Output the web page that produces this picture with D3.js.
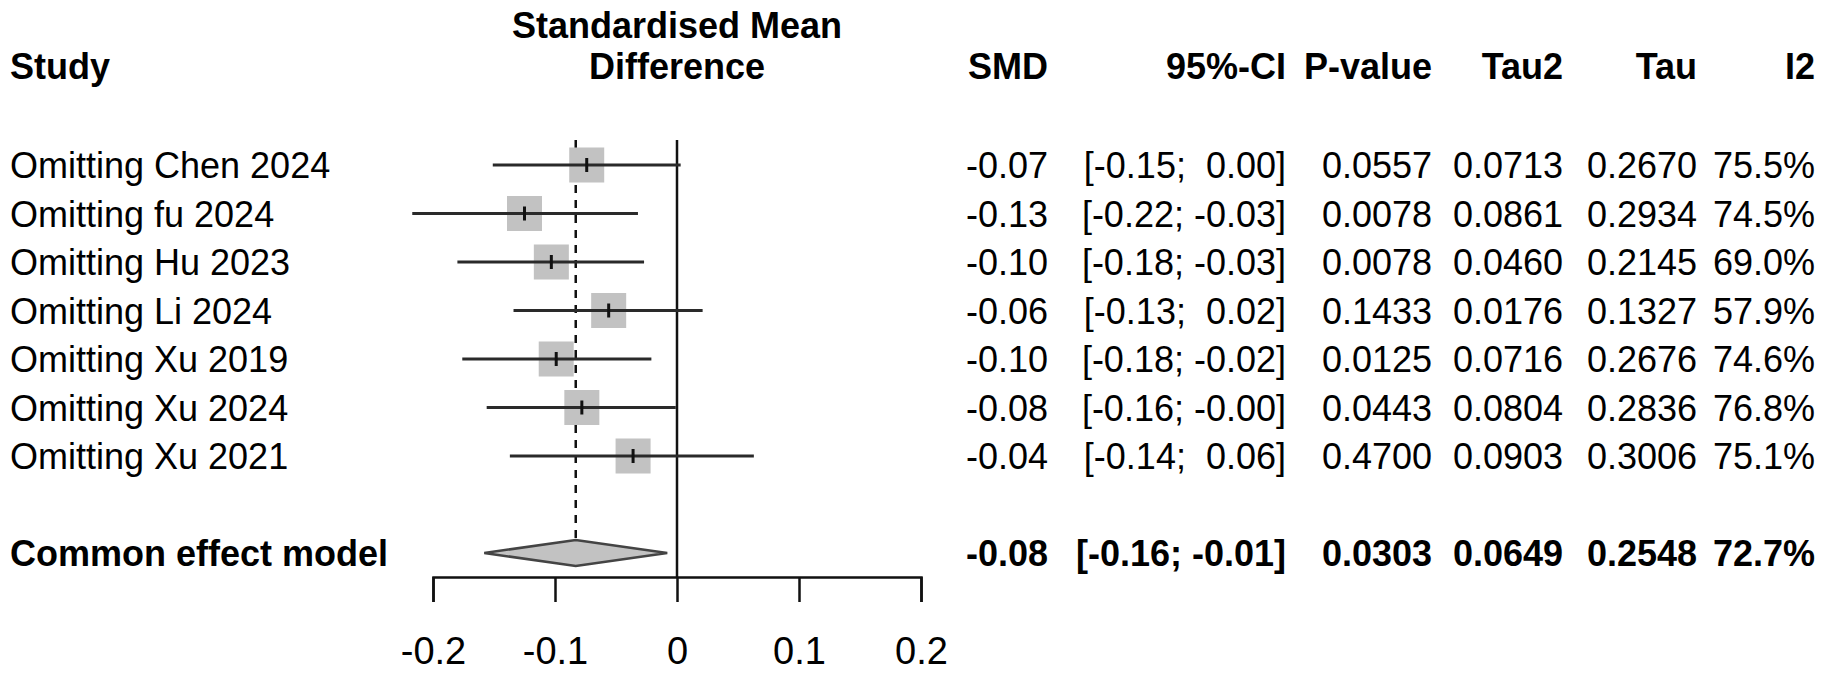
<!DOCTYPE html>
<html>
<head>
<meta charset="utf-8">
<script src="https://cdn.jsdelivr.net/npm/d3@7"></script>
<style>
  body { margin: 0; background: #fff; }
  text { font-family: "Liberation Sans", Arial, sans-serif; white-space: pre; }
</style>
</head>
<body>
<div id="forest"></div>
<script>
var W = 1831, H = 673;

// study rows (leave-one-out)
var studies = ["Omitting Chen 2024", "Omitting fu 2024", "Omitting Hu 2023", "Omitting Li 2024",
               "Omitting Xu 2019", "Omitting Xu 2024", "Omitting Xu 2021"];
var smd   = [-0.074, -0.125, -0.103, -0.056, -0.099, -0.078, -0.036];
var lower = [-0.151, -0.217, -0.180, -0.134, -0.176, -0.156, -0.137];
var upper = [ 0.003, -0.032, -0.027,  0.021, -0.021, -0.001,  0.063];

var smdTxt  = ["-0.07", "-0.13", "-0.10", "-0.06", "-0.10", "-0.08", "-0.04"];
var ciTxt   = ["[-0.15;  0.00]", "[-0.22; -0.03]", "[-0.18; -0.03]", "[-0.13;  0.02]",
               "[-0.18; -0.02]", "[-0.16; -0.00]", "[-0.14;  0.06]"];
var pTxt    = ["0.0557", "0.0078", "0.0078", "0.1433", "0.0125", "0.0443", "0.4700"];
var tau2Txt = ["0.0713", "0.0861", "0.0460", "0.0176", "0.0716", "0.0804", "0.0903"];
var tauTxt  = ["0.2670", "0.2934", "0.2145", "0.1327", "0.2676", "0.2836", "0.3006"];
var i2Txt   = ["75.5%", "74.5%", "69.0%", "57.9%", "74.6%", "76.8%", "75.1%"];

// pooled
var pooled = {label: "Common effect model", est: -0.083, lo: -0.158, hi: -0.008,
              smd: "-0.08", ci: "[-0.16; -0.01]", p: "0.0303", tau2: "0.0649", tau: "0.2548", i2: "72.7%"};

var tickVals = [-0.2, -0.1, 0, 0.1, 0.2];
var tickLabs = ["-0.2", "-0.1", "0", "0.1", "0.2"];

var headers = ["SMD", "95%-CI", "P-value", "Tau2", "Tau", "I2"];
var colEnd  = [1048, 1286, 1432, 1563, 1697, 1815];

var fs = 36;

var x = d3.scaleLinear().domain([-0.2, 0.2]).range([433, 921]);
var y = d3.scaleLinear().domain([0, 8]).range([165, 553]);
var axisY = 577;

var svg = d3.select("#forest").append("svg")
    .attr("width", W).attr("height", H);

// headers
svg.append("text").attr("x", 10).attr("y", 79)
   .attr("font-size", fs).attr("font-weight", "bold").text("Study");
svg.append("text").attr("x", x(0)).attr("y", 38).attr("text-anchor", "middle")
   .attr("font-size", fs).attr("font-weight", "bold").text("Standardised Mean");
svg.append("text").attr("x", x(0)).attr("y", 79).attr("text-anchor", "middle")
   .attr("font-size", fs).attr("font-weight", "bold").text("Difference");
headers.forEach(function(h, i) {
  svg.append("text").attr("x", colEnd[i]).attr("y", 79).attr("text-anchor", "end")
     .attr("font-size", fs).attr("font-weight", "bold").text(h);
});

// zero line and pooled dashed line
svg.append("line")
   .attr("x1", x(0)).attr("x2", x(0)).attr("y1", 140).attr("y2", axisY)
   .attr("stroke", "#111").attr("stroke-width", 2.5);
svg.append("line")
   .attr("x1", x(pooled.est)).attr("x2", x(pooled.est)).attr("y1", 140).attr("y2", y(8) - 13)
   .attr("stroke", "#111").attr("stroke-width", 2.5).attr("stroke-dasharray", "8,7");

// study rows
var sq = 35;
studies.forEach(function(s, i) {
  var cy = y(i);
  svg.append("rect")
     .attr("x", x(smd[i]) - sq / 2).attr("y", cy - sq / 2)
     .attr("width", sq).attr("height", sq)
     .attr("fill", "#c2c2c2");
  svg.append("line")
     .attr("x1", x(lower[i])).attr("x2", x(upper[i])).attr("y1", cy).attr("y2", cy)
     .attr("stroke", "#2a2a2a").attr("stroke-width", 2.8);
  svg.append("line")
     .attr("x1", x(smd[i])).attr("x2", x(smd[i])).attr("y1", cy - 7).attr("y2", cy + 7)
     .attr("stroke", "#111").attr("stroke-width", 3);

  var ty = cy + 13;
  svg.append("text").attr("x", 10).attr("y", ty).attr("font-size", fs).text(s);
  [smdTxt[i], ciTxt[i], pTxt[i], tau2Txt[i], tauTxt[i], i2Txt[i]].forEach(function(t, j) {
    svg.append("text").attr("x", colEnd[j]).attr("y", ty).attr("text-anchor", "end")
       .attr("font-size", fs).text(t);
  });
});

// pooled diamond
var py = y(8);
svg.append("path")
   .attr("d", "M" + x(pooled.lo) + "," + py + " L" + x(pooled.est) + "," + (py - 13) +
              " L" + x(pooled.hi) + "," + py + " L" + x(pooled.est) + "," + (py + 13) + " Z")
   .attr("fill", "#c2c2c2").attr("stroke", "#444").attr("stroke-width", 2.5);
svg.append("text").attr("x", 10).attr("y", py + 13)
   .attr("font-size", fs).attr("font-weight", "bold").text(pooled.label);
[pooled.smd, pooled.ci, pooled.p, pooled.tau2, pooled.tau, pooled.i2].forEach(function(t, j) {
  svg.append("text").attr("x", colEnd[j]).attr("y", py + 13).attr("text-anchor", "end")
     .attr("font-size", fs).attr("font-weight", "bold").text(t);
});

// x axis
var ax = svg.append("g")
   .attr("transform", "translate(0," + axisY + ")")
   .call(d3.axisBottom(x).tickValues(tickVals).tickSize(25).tickPadding(35)
          .tickFormat(function(d, i) { return tickLabs[i]; }));
ax.select(".domain").attr("stroke", "#111").attr("stroke-width", 2.5);
ax.selectAll(".tick line").attr("stroke", "#111").attr("stroke-width", 2.5);
ax.selectAll(".tick text").attr("font-size", 38).attr("fill", "#000")
  .attr("font-family", "'Liberation Sans', Arial, sans-serif");
</script>
</body>
</html>
